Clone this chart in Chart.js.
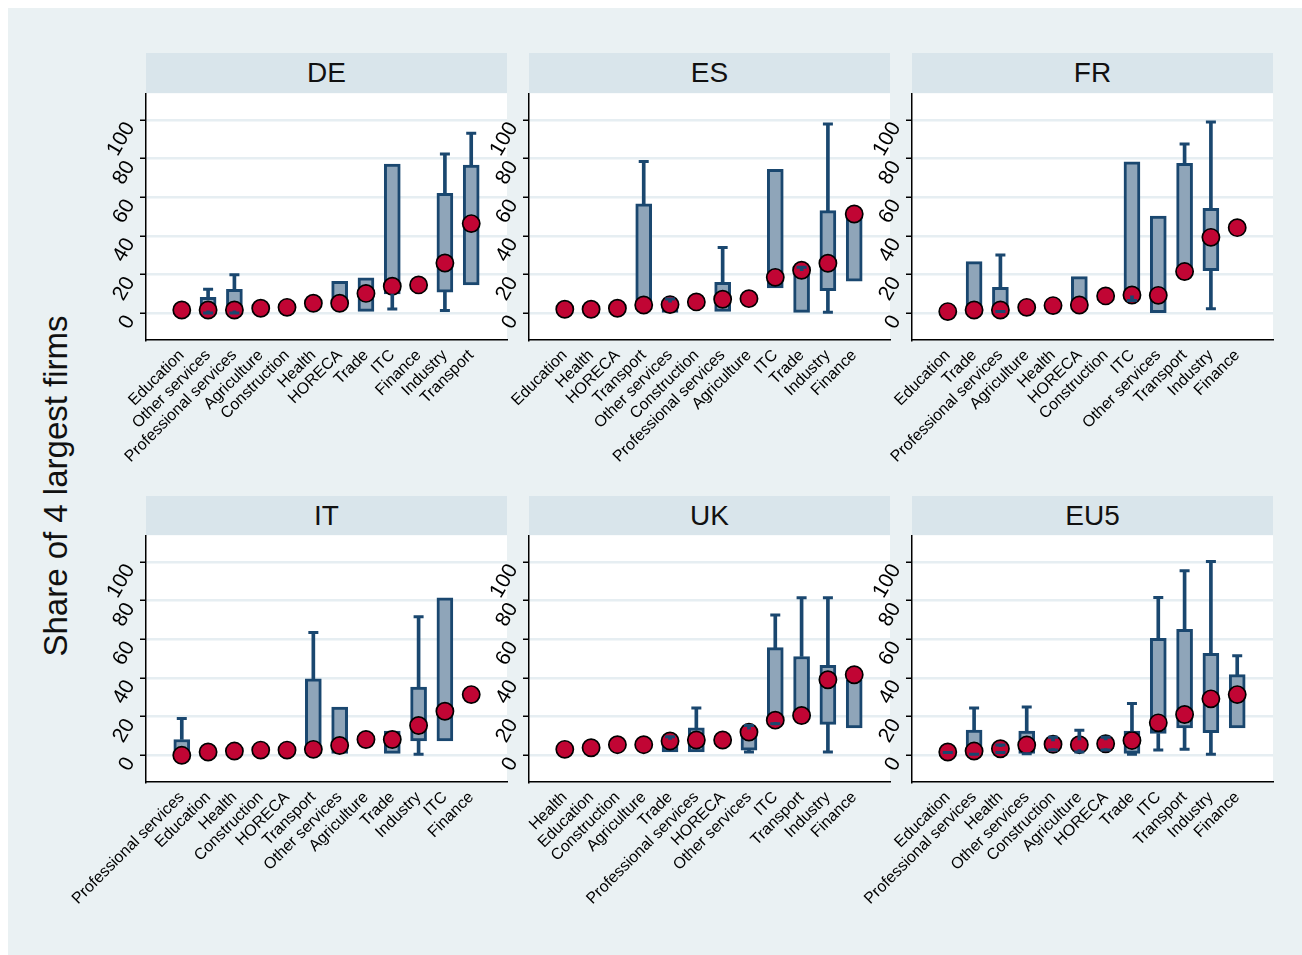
<!DOCTYPE html>
<html>
<head>
<meta charset="utf-8">
<title>Share of 4 largest firms by sector</title>
<script src="https://cdn.jsdelivr.net/npm/chart.js@4.4.1/dist/chart.umd.min.js"></script>
<style>
  html, body { margin: 0; padding: 0; background: #ffffff; }
  #frame { position: absolute; left: 8px; top: 8px; width: 1294px; height: 947px; background: #eaf1f3; }
  .strip { position: absolute; width: 361px; background: #d9e5eb; color: #111;
           font: 28px "Liberation Sans", Arial, sans-serif; text-align: center; }
  #ytitle { position: absolute; left: -191px; top: 464px; width: 500px; height: 44px; line-height: 44px;
            text-align: center; font: 33px "Liberation Sans", Arial, sans-serif; color: #111;
            transform: rotate(-90deg); transform-origin: 50% 50%; }
  canvas { position: absolute; }
</style>
</head>
<body>
<div id="frame"></div>
<div id="ytitle">Share of 4 largest firms</div>
<script>
// ---- sector order, dot values, box (q1..q3) and whisker ends per country ----
const SECTORS_DE = ['Education', 'Other services', 'Professional services', 'Agriculture', 'Construction', 'Health', 'HORECA', 'Trade', 'ITC', 'Finance', 'Industry', 'Transport'];
const DOT_DE   = [1.7, 1.7, 1.7, 2.6, 3.1, 5.2, 5.2, 10.3, 14.0, 14.7, 26.0, 46.4];
const Q1_DE    = [null, 1.3, 1.3, null, null, null, 4.0, 1.0, 10.0, null, 10.9, 14.7];
const Q3_DE    = [null, 8.3, 12.4, null, null, null, 16.6, 18.3, 77.2, null, 62.0, 76.7];
const LO_DE    = [null, 0.2, 0.2, null, null, null, null, null, 2.2, null, 1.4, null];
const HI_DE    = [null, 12.4, 20.0, null, null, null, null, null, null, null, 82.4, 93.1];

const SECTORS_ES = ['Education', 'Health', 'HORECA', 'Transport', 'Other services', 'Construction', 'Professional services', 'Agriculture', 'ITC', 'Trade', 'Industry', 'Finance'];
const DOT_ES   = [2.1, 2.1, 2.6, 4.3, 4.5, 5.9, 7.3, 7.6, 18.6, 22.3, 25.9, 51.4];
const Q1_ES    = [null, null, null, 2.0, 0.5, null, 1.0, null, 13.1, 0.5, 11.7, 16.6];
const Q3_ES    = [null, null, null, 56.6, 5.8, null, 16.0, null, 74.5, 22.0, 53.1, 50.0];
const LO_ES    = [null, null, null, null, null, null, null, null, null, null, 0.5, null];
const HI_ES    = [null, null, null, 78.5, 7.4, null, 34.0, null, null, 23.8, 97.9, null];

const SECTORS_FR = ['Education', 'Trade', 'Professional services', 'Agriculture', 'Health', 'HORECA', 'Construction', 'ITC', 'Other services', 'Transport', 'Industry', 'Finance'];
const DOT_FR   = [0.9, 1.7, 1.7, 3.1, 4.0, 4.3, 9.0, 9.5, 9.3, 21.6, 39.3, 44.3];
const Q1_FR    = [null, 0.5, 1.2, null, null, 3.0, null, 9.0, 0.3, 20.0, 22.1, null];
const Q3_FR    = [null, 26.7, 13.4, null, null, 19.0, null, 78.4, 50.3, 77.6, 54.3, null];
const LO_FR    = [null, null, 1.0, null, null, null, null, 6.6, null, null, 2.4, null];
const HI_FR    = [null, null, 30.2, null, null, null, null, null, null, 87.6, 99.0, null];

const SECTORS_IT = ['Professional services', 'Education', 'Health', 'Construction', 'HORECA', 'Transport', 'Other services', 'Agriculture', 'Trade', 'Industry', 'ITC', 'Finance'];
const DOT_IT   = [0.0, 1.7, 2.2, 2.7, 2.7, 3.1, 5.1, 8.2, 8.2, 15.4, 22.8, 31.4];
const Q1_IT    = [0.0, null, null, null, null, 1.0, 1.0, null, 1.0, 7.4, 7.4, null];
const Q3_IT    = [8.2, null, null, null, null, 39.5, 24.9, null, 12.5, 35.3, 81.5, null];
const LO_IT    = [null, null, null, null, null, null, null, null, null, 0.5, null, null];
const HI_IT    = [19.0, null, null, null, null, 63.5, null, null, null, 71.7, null, null];

const SECTORS_UK = ['Health', 'Education', 'Construction', 'Agriculture', 'Trade', 'Professional services', 'HORECA', 'Other services', 'ITC', 'Transport', 'Industry', 'Finance'];
const DOT_UK   = [3.1, 3.9, 5.5, 5.5, 7.4, 7.9, 7.9, 12.0, 18.2, 20.6, 39.1, 41.7];
const Q1_UK    = [null, null, null, null, 1.7, 1.7, null, 2.7, 17.0, 19.0, 16.0, 14.2];
const Q3_UK    = [null, null, null, null, 8.2, 14.2, null, 13.5, 55.7, 51.1, 46.5, 39.0];
const LO_UK    = [null, null, null, null, null, null, null, 1.7, 16.3, null, 1.7, null];
const HI_UK    = [null, null, null, null, 9.6, 24.5, null, 15.4, 72.6, 81.5, 81.5, null];

const SECTORS_EU5 = ['Education', 'Professional services', 'Health', 'Other services', 'Construction', 'Agriculture', 'HORECA', 'Trade', 'ITC', 'Transport', 'Industry', 'Finance'];
const DOT_EU5  = [1.7, 2.2, 3.4, 5.3, 5.7, 5.5, 6.0, 7.7, 16.8, 21.1, 29.2, 31.4];
const Q1_EU5   = [null, 1.0, 2.0, 1.0, 3.5, 3.0, 3.5, 1.0, 11.3, 14.2, 11.7, 14.2];
const Q3_EU5   = [null, 13.0, 4.5, 12.5, 7.5, 8.0, 8.0, 12.5, 60.5, 65.2, 52.8, 41.7];
const LO_EU5   = [1.4, 0.5, 1.4, 0.8, 2.7, 1.7, 2.7, 0.5, 2.7, 3.1, 0.5, null];
const HI_EU5   = [null, 24.5, 5.3, 25.0, 9.4, 13.0, 9.4, 26.8, 81.6, 95.4, 100.3, 51.5];

const Y_TICKS = [0, 20, 40, 60, 80, 100];

// ---- styling ----
const NAVY = '#1a476f';
const BOX_FILL = '#8fa5b9';
const DOT_RED = '#c10534';
const GRID = '#e6eef2';
const FONT = '"Liberation Sans", Arial, Helvetica, sans-serif';

const PLOT_W = 361, PLOT_H = 247;
const AXIS_W = 110, XAXIS_H = 140, RIGHT_PAD = 20;
const COLS = [146, 529, 912];
const ROWS = [{ strip: 53, stripH: 40, plot: 93 }, { strip: 496, stripH: 39, plot: 535 }];

Chart.defaults.font.family = FONT;
Chart.defaults.color = '#000';

const plotBackground = {
  id: 'plotBackground',
  beforeDraw(chart) {
    const { ctx, chartArea: a } = chart;
    ctx.save();
    ctx.fillStyle = '#ffffff';
    ctx.fillRect(a.left, a.top, a.right - a.left, a.bottom - a.top);
    ctx.restore();
  }
};

function panelConfig(sectors, dot, q1, q3, lo, hi) {
  const idx = sectors.map((_, i) => i);
  const boxes = idx.filter(i => q1[i] != null).map(i => ({ x: i, y: [q1[i], q3[i]] }));
  const stems = [];
  const caps = [];
  idx.forEach(i => {
    if (lo[i] != null) {
      stems.push({ x: i, y: [lo[i], q1[i] != null ? q1[i] : lo[i]] });
      caps.push({ x: i, y: lo[i] });
    }
    if (hi[i] != null) {
      stems.push({ x: i, y: [q3[i] != null ? q3[i] : hi[i], hi[i]] });
      caps.push({ x: i, y: hi[i] });
    }
  });
  const dots = idx.map(i => ({ x: i, y: dot[i] }));

  return {
    type: 'bar',
    data: {
      datasets: [
        { type: 'bar', data: boxes, order: 3, grouped: false, barThickness: 16,
          backgroundColor: BOX_FILL, borderColor: NAVY, borderWidth: 3, borderSkipped: false },
        { type: 'scatter', data: dots, order: 2, pointRadius: 8.6,
          pointBackgroundColor: DOT_RED, pointBorderColor: '#000', pointBorderWidth: 1.7 },
        { type: 'bar', data: stems, order: 1, grouped: false, barThickness: 3,
          backgroundColor: NAVY, borderWidth: 0 },
        { type: 'scatter', data: caps, order: 0, pointStyle: 'line', pointRadius: 5,
          pointBorderColor: NAVY, pointBorderWidth: 3 }
      ]
    },
    options: {
      responsive: false,
      maintainAspectRatio: false,
      animation: false,
      events: [],
      devicePixelRatio: 1,
      layout: { padding: { left: 0, right: RIGHT_PAD, top: 0, bottom: 0 } },
      plugins: { legend: { display: false }, tooltip: { enabled: false }, title: { display: false } },
      scales: {
        x: {
          type: 'linear', min: -1.36, max: 12.36, offset: false,
          afterBuildTicks: s => { s.ticks = idx.map(v => ({ value: v })); },
          afterFit: s => { s.height = XAXIS_H; s.paddingLeft = 0; s.paddingRight = 0; },
          grid: { display: false, drawTicks: false },
          border: { display: true, color: '#000', width: 1.5 },
          ticks: { autoSkip: false, minRotation: 45, maxRotation: 45, padding: 6,
                   font: { size: 16 }, color: '#000', callback: v => sectors[v] }
        },
        y: {
          type: 'linear', min: -13.8, max: 113.8,
          afterBuildTicks: s => { s.ticks = Y_TICKS.map(v => ({ value: v })); },
          afterFit: s => { s.width = AXIS_W; s.paddingTop = 0; s.paddingBottom = 0; },
          grid: { color: GRID, lineWidth: 2.5, drawTicks: true, tickLength: 6, tickColor: '#000', tickWidth: 1.5 },
          border: { display: true, color: '#000', width: 1.5 },
          ticks: { minRotation: 60, maxRotation: 60, padding: 10, labelOffset: 4,
                   font: { size: 21 }, color: '#000', callback: v => String(v) }
        }
      }
    },
    plugins: [plotBackground]
  };
}

function makePanel(name, sectors, dot, q1, q3, lo, hi, col, row) {
  const left = COLS[col], r = ROWS[row];

  const strip = document.createElement('div');
  strip.className = 'strip';
  strip.style.left = left + 'px';
  strip.style.top = r.strip + 'px';
  strip.style.height = r.stripH + 'px';
  strip.style.lineHeight = r.stripH + 'px';
  strip.textContent = name;
  document.body.appendChild(strip);

  const canvas = document.createElement('canvas');
  canvas.style.left = (left - AXIS_W) + 'px';
  document.body.appendChild(canvas);

  const build = h => {
    canvas.width = AXIS_W + PLOT_W + RIGHT_PAD;
    canvas.height = h;
    return new Chart(canvas, panelConfig(sectors, dot, q1, q3, lo, hi));
  };

  // size the canvas so the plot area comes out exactly PLOT_H tall
  let h = PLOT_H + XAXIS_H;
  let chart = build(h);
  const got = chart.chartArea.bottom - chart.chartArea.top;
  if (Math.abs(got - PLOT_H) > 0.5) {
    chart.destroy();
    h += PLOT_H - got;
    chart = build(h);
  }
  canvas.style.top = (r.plot - chart.chartArea.top) + 'px';
}

makePanel('DE', SECTORS_DE, DOT_DE, Q1_DE, Q3_DE, LO_DE, HI_DE, 0, 0);
makePanel('ES', SECTORS_ES, DOT_ES, Q1_ES, Q3_ES, LO_ES, HI_ES, 1, 0);
makePanel('FR', SECTORS_FR, DOT_FR, Q1_FR, Q3_FR, LO_FR, HI_FR, 2, 0);
makePanel('IT', SECTORS_IT, DOT_IT, Q1_IT, Q3_IT, LO_IT, HI_IT, 0, 1);
makePanel('UK', SECTORS_UK, DOT_UK, Q1_UK, Q3_UK, LO_UK, HI_UK, 1, 1);
makePanel('EU5', SECTORS_EU5, DOT_EU5, Q1_EU5, Q3_EU5, LO_EU5, HI_EU5, 2, 1);
</script>
</body>
</html>
